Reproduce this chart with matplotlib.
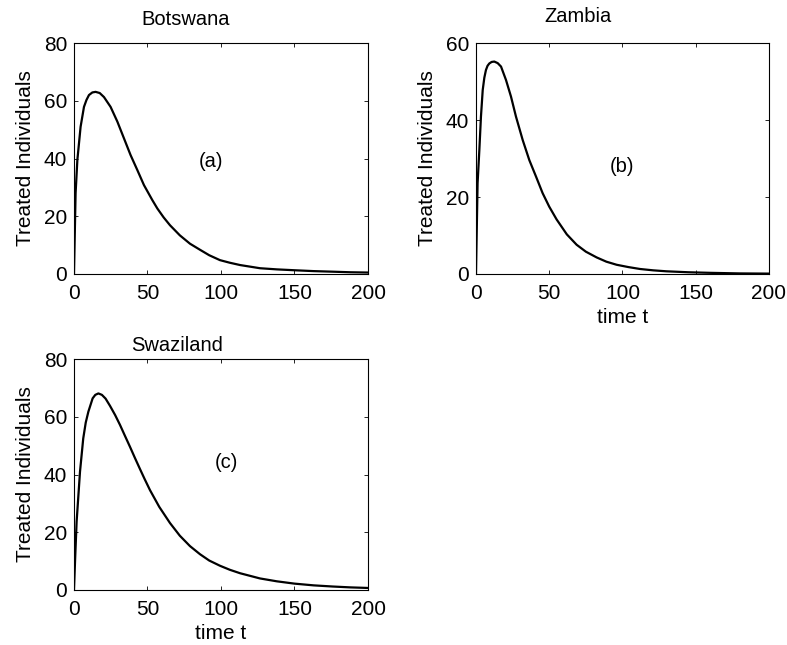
import numpy as np
import matplotlib
matplotlib.use("Agg")
import matplotlib.pyplot as plt


# values
bw_t = [0, 1.1, 2.3, 4.5, 6.8, 8.5, 10.2, 12.5, 14.7, 17.5, 20.4, 24.9, 29.5, 34,
        38.5, 43.1, 47.6, 53.3, 56.7, 61, 65.3, 72, 78.9, 85.7, 92, 99.3, 106,
        113, 126.5, 138, 150, 163, 176, 188, 200]
bw_y = [0, 28, 39.5, 51.0, 57.9, 60.3, 62.0, 62.9, 63.1, 62.7, 61.3, 57.9, 52.8, 47,
        41.2, 36, 30.8, 25.6, 22.7, 19.6, 16.9, 13.4, 10.5, 8.4, 6.5, 4.8, 3.9,
        3.1, 2.0, 1.6, 1.3, 1.0, 0.8, 0.6, 0.5]

zm_t = [0, 1.1, 2.3, 3.4, 4.6, 5.7, 6.8, 7.9, 9.1, 10.7, 12.5, 14.8, 17.1, 20.5,
        23.9, 27.3, 31.9, 36.4, 41, 45.5, 50, 55, 62, 68.7, 75, 82.4, 89, 96, 104,
        112, 121, 130, 145, 160, 180, 200]
zm_y = [0, 23.6, 32.2, 40.9, 47.8, 51, 53, 54.1, 54.7, 55.1, 55.2, 54.8, 53.9, 50.4,
        46.1, 40.9, 34.8, 29.6, 25.3, 21.0, 17.5, 14.2, 10.3, 7.6, 5.8, 4.3, 3.2,
        2.4, 1.8, 1.3, 0.95, 0.7, 0.45, 0.3, 0.15, 0.1]

sz_t = [0, 0.8, 1.8, 4.1, 6.3, 8, 9.8, 12.7, 14.5, 16.6, 19, 21.5, 24.5, 28, 31.3,
        34.5, 38.1, 41.5, 44.9, 48, 51.7, 58, 65.3, 72, 78.9, 85.7, 92, 99.3, 106,
        113, 126.5, 138, 150, 163, 176, 188, 200]
sz_y = [0, 11, 23.7, 41, 52.5, 58, 61.8, 66.4, 67.6, 68.1, 67.6, 66.3, 63.8, 60.6,
        57.2, 53.6, 49.6, 45.7, 41.9, 38.5, 34.6, 28.8, 23.2, 18.8, 15.2, 12.4,
        10.2, 8.4, 7.0, 5.8, 4.0, 3.0, 2.2, 1.6, 1.2, 0.9, 0.7]

x_ticks = [0, 50, 100, 150, 200]


plt.rcParams['font.family'] = ['Liberation Sans', 'DejaVu Sans']

fig = plt.figure(figsize=(7.87, 6.45), dpi=100)


def panel(rect, t, y, ymax, yticks, title, title_xy, tag, tag_xy, xlabel):
    ax = fig.add_axes(rect)
    ax.plot(t, y, color='black', lw=1.6, solid_joinstyle='round')
    ax.set_xlim(0, 200)
    ax.set_ylim(0, ymax)
    ax.set_xticks(x_ticks)
    ax.set_yticks(yticks)
    ax.tick_params(direction='in', length=3, width=0.6, labelsize=15,
                   top=True, right=True)
    ax.tick_params(axis='x', pad=7)
    ax.tick_params(axis='y', pad=5)
    for sp in ax.spines.values():
        sp.set_linewidth(0.8)
    ax.set_ylabel("Treated Individuals", fontsize=15, labelpad=6)
    if xlabel:
        ax.set_xlabel("time t", fontsize=15, labelpad=4)
    ax.text(title_xy[0], title_xy[1], title, transform=ax.transAxes,
            ha='center', va='center', fontsize=14.5)
    ax.text(tag_xy[0], tag_xy[1], tag, ha='center', va='center', fontsize=14.5)
    return ax


panel([0.094, 0.5752, 0.3736, 0.358], bw_t, bw_y, 80, [0, 20, 40, 60, 80],
      "Botswana", (0.38, 1.10), "(a)", (93, 39), False)
panel([0.6048, 0.5752, 0.3723, 0.358], zm_t, zm_y, 60, [0, 20, 40, 60],
      "Zambia", (0.348, 1.113), "(b)", (100, 28), True)
panel([0.094, 0.0853, 0.3736, 0.358], sz_t, sz_y, 80, [0, 20, 40, 60, 80],
      "Swaziland", (0.35, 1.06), "(c)", (104, 44), True)

fig.savefig("out.png", dpi=100)
